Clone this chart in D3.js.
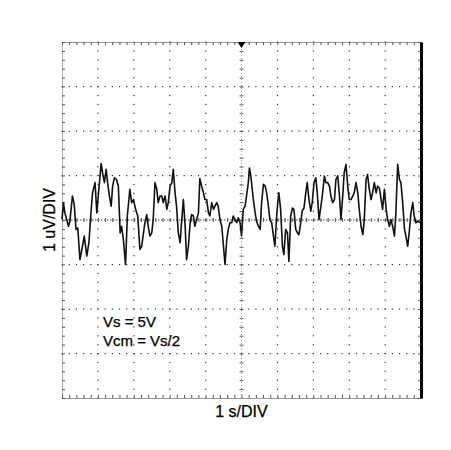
<!DOCTYPE html>
<html>
<head>
<meta charset="utf-8">
<script src="https://cdn.jsdelivr.net/npm/d3@7"></script>
<style>
	body { margin: 0; background: #fff; }
	svg { display: block; }
	text { font-family: "Liberation Sans", Arial, sans-serif; fill: #000; stroke: #000; stroke-width: 0.25px; }
	.lbl { font-size: 16px; }
	.note { font-size: 15px; }
</style>
</head>
<body>
<div class="scope"></div>
<script>
var width = 451,
height = 450,
left = 62, right = 421,
top_ = 42, bottom = 398,
xDivs = 10, yDivs = 8;

// time in divisions (1 s/DIV), value in uV (1 uV/DIV)
var times = [0,0.04,0.08,0.13,0.18,0.22,0.29,0.34,0.39,0.44,0.5,0.57,0.62,0.69,0.75,0.8,0.85,0.92,0.97,1.01,
	1.09,1.13,1.18,1.23,1.27,1.32,1.37,1.41,1.46,1.52,1.57,1.62,1.66,1.71,1.77,1.82,1.89,1.94,1.99,2.05,
	2.11,2.17,2.22,2.27,2.31,2.36,2.4,2.45,2.5,2.54,2.59,2.64,2.68,2.73,2.78,2.82,2.87,2.92,2.96,3.01,
	3.06,3.1,3.15,3.19,3.24,3.29,3.33,3.38,3.43,3.47,3.52,3.57,3.61,3.66,3.7,3.75,3.8,3.84,3.89,3.94,
	3.98,4.03,4.08,4.12,4.17,4.22,4.26,4.31,4.35,4.4,4.45,4.49,4.54,4.59,4.63,4.68,4.73,4.77,4.82,4.87,
	4.91,4.96,5.0,5.05,5.1,5.14,5.19,5.22,5.26,5.29,5.33,5.38,5.42,5.47,5.52,5.56,5.61,5.66,5.7,5.75,
	5.79,5.84,5.89,5.93,5.98,6.01,6.04,6.09,6.14,6.18,6.23,6.28,6.32,6.37,6.42,6.46,6.51,6.56,6.6,6.65,
	6.69,6.74,6.79,6.83,6.88,6.93,6.97,7.02,7.07,7.11,7.16,7.2,7.25,7.31,7.35,7.4,7.45,7.49,7.54,7.59,
	7.63,7.68,7.73,7.77,7.82,7.86,7.91,7.96,8.0,8.05,8.1,8.14,8.19,8.24,8.28,8.33,8.38,8.42,8.47,8.51,
	8.56,8.61,8.65,8.7,8.75,8.79,8.84,8.89,8.93,8.98,9.03,9.07,9.12,9.16,9.21,9.26,9.3,9.35,9.4,9.44,
	9.49,9.54,9.58,9.63,9.68,9.72,9.77,9.81,9.86,9.91,9.97];

var noise = [0.01,0.39,0.16,0.01,-0.14,-0.03,0.54,0.35,-0.21,-0.18,-0.89,-0.59,-0.36,-0.81,-0.51,0.09,0.61,0.84,0.16,0.54,
	1.27,1.06,0.84,1.14,0.84,0.54,0.31,0.76,0.95,0.91,0.76,-0.29,-0.14,-0.44,-1.0,0.09,0.69,0.39,0.46,0.24,
	0.09,-0.66,-0.59,-0.29,-0.06,0.12,-0.14,-0.36,-0.29,0.01,0.84,0.69,0.39,0.54,0.54,0.39,0.54,0.24,0.39,0.76,
	0.84,1.14,0.61,0.31,-0.29,-0.51,-0.06,0.46,-0.14,-0.89,-0.59,-0.06,0.12,0.09,-0.14,0.01,0.16,0.93,0.76,0.61,
	0.46,0.46,0.16,0.09,0.39,0.24,0.31,0.39,0.31,0.01,-0.14,-0.51,-1.0,-0.44,-0.21,-0.06,-0.06,0.09,0.01,-0.06,
	0.05,-0.06,-0.36,0.24,0.31,0.54,0.84,1.17,0.99,0.76,0.46,0.16,-0.03,-0.14,-0.21,0.39,0.8,0.76,0.61,0.31,
	0.01,-0.06,-0.36,-0.59,0.09,0.39,0.61,0.24,-0.59,-0.78,-0.21,-0.29,-0.93,0.09,0.27,0.24,-0.21,-0.29,-0.33,-0.06,
	0.2,0.27,0.61,0.84,0.46,0.2,0.39,0.84,0.95,0.61,0.01,0.24,0.54,0.99,0.84,0.84,0.76,0.54,0.39,0.46,
	0.91,0.99,0.54,0.01,0.54,1.06,1.25,0.76,0.46,0.46,0.54,0.61,0.84,0.61,0.24,-0.14,-0.33,0.01,0.91,1.02,
	0.69,0.46,0.61,0.84,0.61,0.76,0.72,0.46,0.24,0.69,0.24,0.01,-0.14,0.01,-0.14,-0.36,0.16,1.25,0.91,0.84,
	0.39,-0.21,-0.36,-0.59,-0.21,0.16,0.39,0.09,-0.06,-0.03,-0.06];

var xLabel = "1 s/DIV",
yLabel = "1 uV/DIV",
notes = ["Vs = 5V", "Vcm = Vs/2"];

var canvas = d3.select('div.scope')
				.append('svg')
				.attr('width', width)
				.attr('height', height);

var x = d3.scaleLinear()
			.domain([0, xDivs])
			.range([left, right]);

var y = d3.scaleLinear()
			.domain([-yDivs/2, yDivs/2])
			.range([bottom, top_]);

var xMinor = d3.range(0, xDivs + 0.001, 0.2),
yMinor = d3.range(-yDivs/2, yDivs/2 + 0.001, 0.2),
xMajor = d3.range(1, xDivs),
yMajor = d3.range(-yDivs/2 + 1, yDivs/2);

/*
========== graticule dots ==========
*/
var grid = canvas.append('g').attr('class', 'grid');

// dots along horizontal grid lines
yMajor.filter(function(d){ return d != 0; }).forEach(function(v){
	grid.selectAll(null)
		.data(xMinor)
		.enter()
		.append('rect')
		.attr('x', function(d){ return x(d) - 0.5; })
		.attr('y', y(v) - 0.5)
		.attr('width', 1.2)
		.attr('height', 1.2)
		.attr('fill', '#333');
});

// dots along vertical grid lines
xMajor.filter(function(d){ return d != 5; }).forEach(function(v){
	grid.selectAll(null)
		.data(yMinor)
		.enter()
		.append('rect')
		.attr('x', x(v) - 0.5)
		.attr('y', function(d){ return y(d) - 0.5; })
		.attr('width', 1.2)
		.attr('height', 1.2)
		.attr('fill', '#333');
});

/*
========== center axes ==========
*/
grid.append('line')
	.attr('x1', x(0)).attr('x2', x(xDivs))
	.attr('y1', y(0)).attr('y2', y(0))
	.attr('stroke', '#444')
	.attr('stroke-width', 1)
	.attr('stroke-dasharray', '1.5,1.5');

grid.append('line')
	.attr('x1', x(5)).attr('x2', x(5))
	.attr('y1', y(-4)).attr('y2', y(4))
	.attr('stroke', '#999')
	.attr('stroke-width', 1)
	.attr('stroke-dasharray', '1,2');

canvas.append('g')
	.attr('class', 'axis center')
	.attr('transform', 'translate(' + x(5) + ',0)')
	.call(d3.axisLeft(y).tickValues(yMinor).tickSize(2).tickSizeOuter(0).tickFormat(''));

canvas.append('g')
	.attr('class', 'axis center')
	.attr('transform', 'translate(' + x(5) + ',0)')
	.call(d3.axisRight(y).tickValues(yMinor).tickSize(2).tickSizeOuter(0).tickFormat(''));

canvas.append('g')
	.attr('class', 'axis center')
	.attr('transform', 'translate(0,' + y(0) + ')')
	.call(d3.axisTop(x).tickValues(xMinor).tickSize(2).tickSizeOuter(0).tickFormat(''));

canvas.append('g')
	.attr('class', 'axis center')
	.attr('transform', 'translate(0,' + y(0) + ')')
	.call(d3.axisBottom(x).tickValues(xMinor).tickSize(2).tickSizeOuter(0).tickFormat(''));

/*
========== border ==========
*/
canvas.append('g')
	.attr('class', 'axis top')
	.attr('transform', 'translate(0,' + top_ + ')')
	.call(d3.axisBottom(x).tickValues(xMinor).tickSize(3).tickSizeOuter(0).tickFormat(''));

canvas.append('g')
	.attr('class', 'axis bottom')
	.attr('transform', 'translate(0,' + bottom + ')')
	.call(d3.axisTop(x).tickValues(xMinor).tickSize(3).tickSizeOuter(0).tickFormat(''));

canvas.append('g')
	.attr('class', 'axis leftb')
	.attr('transform', 'translate(' + left + ',0)')
	.call(d3.axisRight(y).tickValues(yMinor).tickSize(3).tickSizeOuter(0).tickFormat(''));

canvas.append('g')
	.attr('class', 'axis rightb')
	.attr('transform', 'translate(' + right + ',0)')
	.call(d3.axisLeft(y).tickValues(yMinor).tickSize(3).tickSizeOuter(0).tickFormat(''));

canvas.selectAll('.axis .domain').attr('stroke', '#999');
canvas.selectAll('.axis.center .domain').remove();
canvas.selectAll('.axis .tick line').attr('stroke', '#555');
canvas.selectAll('.axis.leftb .domain').attr('stroke-dasharray', '1,1').attr('stroke', '#666');
canvas.selectAll('.axis.rightb .domain').attr('stroke', '#000').attr('stroke-width', 3);

// trigger marker
canvas.append('path')
	.attr('d', 'M' + (x(5) - 4) + ',' + top_ + 'L' + (x(5) + 4) + ',' + top_ + 'L' + x(5) + ',' + (top_ + 6) + 'Z')
	.attr('fill', '#000');

/*
========== trace ==========
*/
var line = d3.line()
	.x(function(d, i){ return x(times[i]); })
	.y(function(d){ return y(d); });

canvas.append('path')
	.datum(noise)
	.attr('class', 'trace')
	.attr('fill', 'none')
	.attr('stroke', '#111')
	.attr('stroke-width', 1.6)
	.attr('stroke-linejoin', 'round')
	.attr('d', line);

/*
========== labels ==========
*/
canvas.append('text')
	.attr('class', 'lbl')
	.attr('text-anchor', 'middle')
	.attr('x', x(5))
	.attr('y', 417)
	.text(xLabel);

canvas.append('text')
	.attr('class', 'lbl')
	.attr('text-anchor', 'middle')
	.attr('transform', 'translate(' + 55 + ',' + y(0) + ') rotate(-90)')
	.text(yLabel);

canvas.selectAll('text.note')
	.data(notes)
	.enter()
	.append('text')
	.attr('class', 'note')
	.attr('x', 103)
	.attr('y', function(d, i){ return 327 + i*19; })
	.text(function(d){ return d; });
</script>
</body>
</html>
